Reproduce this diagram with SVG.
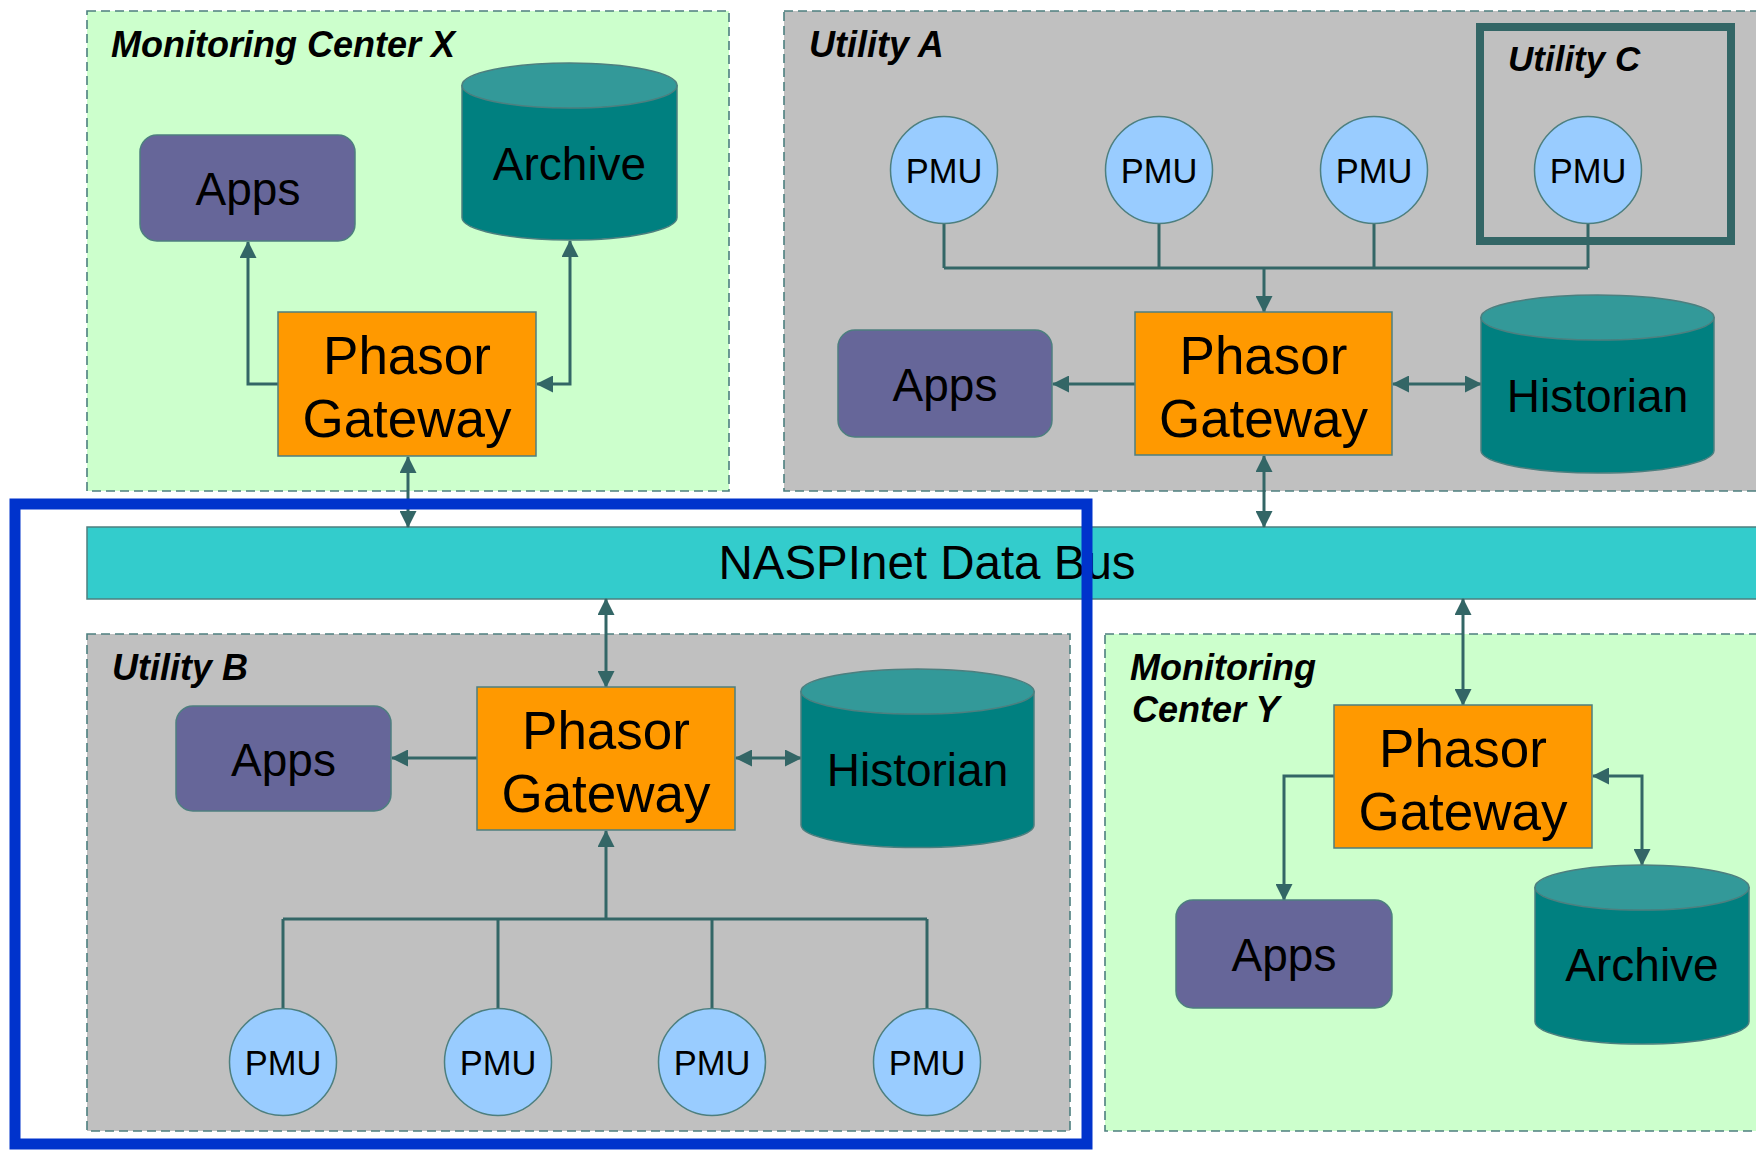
<svg xmlns="http://www.w3.org/2000/svg" width="1756" height="1150" viewBox="0 0 1756 1150">
  <defs>
    <style>
      .zone-green { fill: #CCFFCC; stroke: #4D7F7F; stroke-width: 1.6; stroke-dasharray: 9 5; }
      .zone-gray { fill: #C0C0C0; stroke: #4D7F7F; stroke-width: 1.6; stroke-dasharray: 9 5; }
      .zone-label { font-family: "Liberation Sans", Arial, sans-serif; font-weight: bold; font-style: italic; font-size: 36px; fill: #000; }
      .gateway { fill: #FF9900; stroke: #4D7F7F; stroke-width: 1.5; }
      .apps { fill: #666699; stroke: #4D7F7F; stroke-width: 1.5; }
      .cyl-body { fill: #008080; stroke: #4D7F7F; stroke-width: 1.5; }
      .cyl-top { fill: #339999; stroke: #4D7F7F; stroke-width: 1.5; }
      .pmu { fill: #99CCFF; stroke: #4D7F7F; stroke-width: 1.5; }
      .big { font-family: "Liberation Sans", Arial, sans-serif; font-size: 53px; fill: #000; text-anchor: middle; }
      .mid { font-family: "Liberation Sans", Arial, sans-serif; font-size: 46px; fill: #000; text-anchor: middle; }
      .small { font-family: "Liberation Sans", Arial, sans-serif; font-size: 34.5px; fill: #000; text-anchor: middle; }
      .wire { fill: none; stroke: #336666; stroke-width: 3; }
      .arrow { marker-end: url(#head); }
      .both { marker-start: url(#head); marker-end: url(#head); }
    </style>
    <marker id="head" viewBox="0 0 17 17" refX="16" refY="8.5" markerUnits="userSpaceOnUse" markerWidth="17" markerHeight="17" orient="auto-start-reverse">
      <path d="M0,0 L17,8.5 L0,17 z" fill="#336666"/>
    </marker>
  </defs>

  <rect width="1756" height="1150" fill="#FFFFFF"/>

  <!-- containers -->
  <g id="monitoring-center-x">
    <rect class="zone-green" x="87" y="11" width="642" height="480"/>
    <text class="zone-label" x="111" y="57">Monitoring Center X</text>
  </g>
  <g id="utility-a">
    <rect class="zone-gray" x="784" y="11" width="995" height="480"/>
    <text class="zone-label" x="809" y="57">Utility A</text>
  </g>
  <g id="utility-c">
    <rect x="1480" y="27" width="251" height="214" fill="none" stroke="#336666" stroke-width="8"/>
    <text class="zone-label" x="1508" y="71" style="font-size:35px">Utility C</text>
  </g>
  <g id="utility-b">
    <rect class="zone-gray" x="87" y="634" width="983" height="497"/>
    <text class="zone-label" x="112" y="680">Utility B</text>
  </g>
  <g id="monitoring-center-y">
    <rect class="zone-green" x="1105" y="634" width="670" height="497"/>
    <text class="zone-label" x="1130" y="680">Monitoring</text>
    <text class="zone-label" x="1132" y="722">Center Y</text>
  </g>

  <!-- data bus -->
  <g id="naspinet-bus">
    <rect x="87" y="527" width="1690" height="72" fill="#33CCCC" stroke="#4D7F7F" stroke-width="1.5"/>
    <text class="mid" x="927" y="579" style="font-size:47.5px">NASPInet Data Bus</text>
  </g>

  <!-- connectors -->
  <g id="connectors">
    <!-- Monitoring Center X -->
    <path class="wire arrow" d="M278,384 H248 V242"/>
    <path class="wire both" d="M570,241 V384 H537"/>
    <path class="wire both" d="M408,457 V527"/>
    <!-- Utility A -->
    <path class="wire" d="M944,223 V268 M1159,223 V268 M1374,223 V268 M1588,223 V268 M944,268 H1588"/>
    <path class="wire arrow" d="M1264,268 V312"/>
    <path class="wire arrow" d="M1135,384 H1053"/>
    <path class="wire both" d="M1393,384 H1481"/>
    <path class="wire both" d="M1264,456 V527"/>
    <!-- Utility B -->
    <path class="wire both" d="M606,599 V687"/>
    <path class="wire arrow" d="M477,758 H392"/>
    <path class="wire both" d="M736,758 H801"/>
    <path class="wire" d="M283,1009 V919 M498,1009 V919 M712,1009 V919 M927,1009 V919 M283,919 H927"/>
    <path class="wire arrow" d="M606,919 V831"/>
    <!-- Monitoring Center Y -->
    <path class="wire both" d="M1463,599 V705"/>
    <path class="wire arrow" d="M1334,776 H1284 V900"/>
    <path class="wire both" d="M1593,776 H1642 V865"/>
  </g>

  <!-- Monitoring Center X nodes -->
  <g id="mcx-apps">
    <rect class="apps" x="140" y="135" width="215" height="106" rx="17"/>
    <text class="mid" x="248" y="205">Apps</text>
  </g>
  <g id="mcx-archive">
    <path class="cyl-body" d="M462,85.5 V217.5 A107.5,22.5 0 0 0 677,217.5 V85.5 Z"/>
    <ellipse class="cyl-top" cx="569.5" cy="85.5" rx="107.5" ry="22.5"/>
    <text class="mid" x="569.5" y="180">Archive</text>
  </g>
  <g id="mcx-gateway">
    <rect class="gateway" x="278" y="312" width="258" height="144"/>
    <text class="big" x="407" y="374">Phasor</text>
    <text class="big" x="407" y="437">Gateway</text>
  </g>

  <!-- Utility A nodes -->
  <g id="ua-pmu-1">
    <circle class="pmu" cx="944" cy="170" r="53.5"/>
    <text class="small" x="944" y="183">PMU</text>
  </g>
  <g id="ua-pmu-2">
    <circle class="pmu" cx="1159" cy="170" r="53.5"/>
    <text class="small" x="1159" y="183">PMU</text>
  </g>
  <g id="ua-pmu-3">
    <circle class="pmu" cx="1374" cy="170" r="53.5"/>
    <text class="small" x="1374" y="183">PMU</text>
  </g>
  <g id="uc-pmu">
    <circle class="pmu" cx="1588" cy="170" r="53.5"/>
    <text class="small" x="1588" y="183">PMU</text>
  </g>
  <g id="ua-apps">
    <rect class="apps" x="838" y="330" width="214" height="107" rx="17"/>
    <text class="mid" x="945" y="401">Apps</text>
  </g>
  <g id="ua-gateway">
    <rect class="gateway" x="1135" y="312" width="257" height="143"/>
    <text class="big" x="1263.5" y="374">Phasor</text>
    <text class="big" x="1263.5" y="437">Gateway</text>
  </g>
  <g id="ua-historian">
    <path class="cyl-body" d="M1481,317.5 V450.5 A116.5,22.5 0 0 0 1714,450.5 V317.5 Z"/>
    <ellipse class="cyl-top" cx="1597.5" cy="317.5" rx="116.5" ry="22.5"/>
    <text class="mid" x="1597.5" y="412">Historian</text>
  </g>

  <!-- Utility B nodes -->
  <g id="ub-apps">
    <rect class="apps" x="176" y="706" width="215" height="105" rx="17"/>
    <text class="mid" x="283.5" y="776">Apps</text>
  </g>
  <g id="ub-gateway">
    <rect class="gateway" x="477" y="687" width="258" height="143"/>
    <text class="big" x="606" y="749">Phasor</text>
    <text class="big" x="606" y="812">Gateway</text>
  </g>
  <g id="ub-historian">
    <path class="cyl-body" d="M801,691.5 V825 A116.5,22.5 0 0 0 1034,825 V691.5 Z"/>
    <ellipse class="cyl-top" cx="917.5" cy="691.5" rx="116.5" ry="22.5"/>
    <text class="mid" x="917.5" y="786">Historian</text>
  </g>
  <g id="ub-pmu-1">
    <circle class="pmu" cx="283" cy="1062" r="53.5"/>
    <text class="small" x="283" y="1075">PMU</text>
  </g>
  <g id="ub-pmu-2">
    <circle class="pmu" cx="498" cy="1062" r="53.5"/>
    <text class="small" x="498" y="1075">PMU</text>
  </g>
  <g id="ub-pmu-3">
    <circle class="pmu" cx="712" cy="1062" r="53.5"/>
    <text class="small" x="712" y="1075">PMU</text>
  </g>
  <g id="ub-pmu-4">
    <circle class="pmu" cx="927" cy="1062" r="53.5"/>
    <text class="small" x="927" y="1075">PMU</text>
  </g>

  <!-- Monitoring Center Y nodes -->
  <g id="mcy-gateway">
    <rect class="gateway" x="1334" y="705" width="258" height="143"/>
    <text class="big" x="1463" y="767">Phasor</text>
    <text class="big" x="1463" y="830">Gateway</text>
  </g>
  <g id="mcy-apps">
    <rect class="apps" x="1176" y="900" width="216" height="108" rx="17"/>
    <text class="mid" x="1284" y="971">Apps</text>
  </g>
  <g id="mcy-archive">
    <path class="cyl-body" d="M1535,887.5 V1021.5 A107,22.5 0 0 0 1749,1021.5 V887.5 Z"/>
    <ellipse class="cyl-top" cx="1642" cy="887.5" rx="107" ry="22.5"/>
    <text class="mid" x="1642" y="981">Archive</text>
  </g>

  <!-- highlight frame around Utility B -->
  <g id="highlight">
    <rect x="15" y="504" width="1072" height="640" fill="none" stroke="#0033CC" stroke-width="11"/>
  </g>
</svg>
